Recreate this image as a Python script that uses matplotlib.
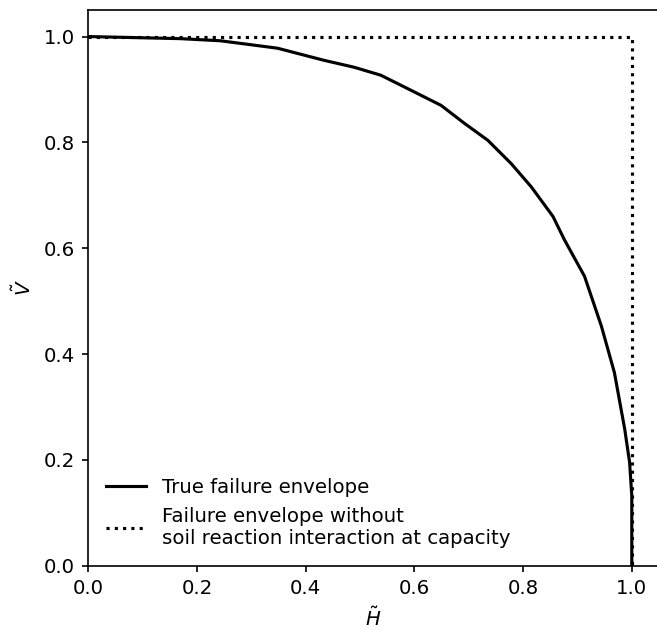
import matplotlib
matplotlib.use('Agg')
import matplotlib.pyplot as plt
import numpy as np

plt.rcParams.update({'font.size': 9.5,
                     'xtick.major.size': 2.9,
                     'ytick.major.size': 2.9})

# normalised capacity: horizontal vs vertical
H_true = [0.0, 0.17, 0.243, 0.348, 0.434, 0.489, 0.538, 0.581, 0.649, 0.692,
          0.735, 0.778, 0.815, 0.855, 0.876, 0.913, 0.944, 0.968, 0.987, 0.996,
          1.0, 1.0]
V_true = [1.0, 0.996, 0.992, 0.978, 0.955, 0.942, 0.927, 0.905, 0.870, 0.836,
          0.804, 0.760, 0.716, 0.660, 0.616, 0.547, 0.453, 0.365, 0.258, 0.195,
          0.132, 0.0]

# envelope if the soil reactions did not interact at capacity
H_box = [0.0, 1.0, 1.0]
V_box = [1.0, 1.0, 0.0]

fig = plt.figure(figsize=(4.38, 4.2), dpi=150)
ax = fig.add_axes([0.1344, 0.102, 0.8686, 0.882])

ax.plot(H_true, V_true, 'k-', label='True failure envelope')
ax.plot(H_box, V_box, 'k:',
        label='Failure envelope without\nsoil reaction interaction at capacity')

ax.set_xlim(0, 1.05)
ax.set_ylim(0, 1.05)
ax.set_xlabel(r'$\tilde{H}$')
ax.set_ylabel(r'$\tilde{V}$')
ax.legend(loc='lower left', frameon=False)

fig.savefig('out.png', dpi=150)
